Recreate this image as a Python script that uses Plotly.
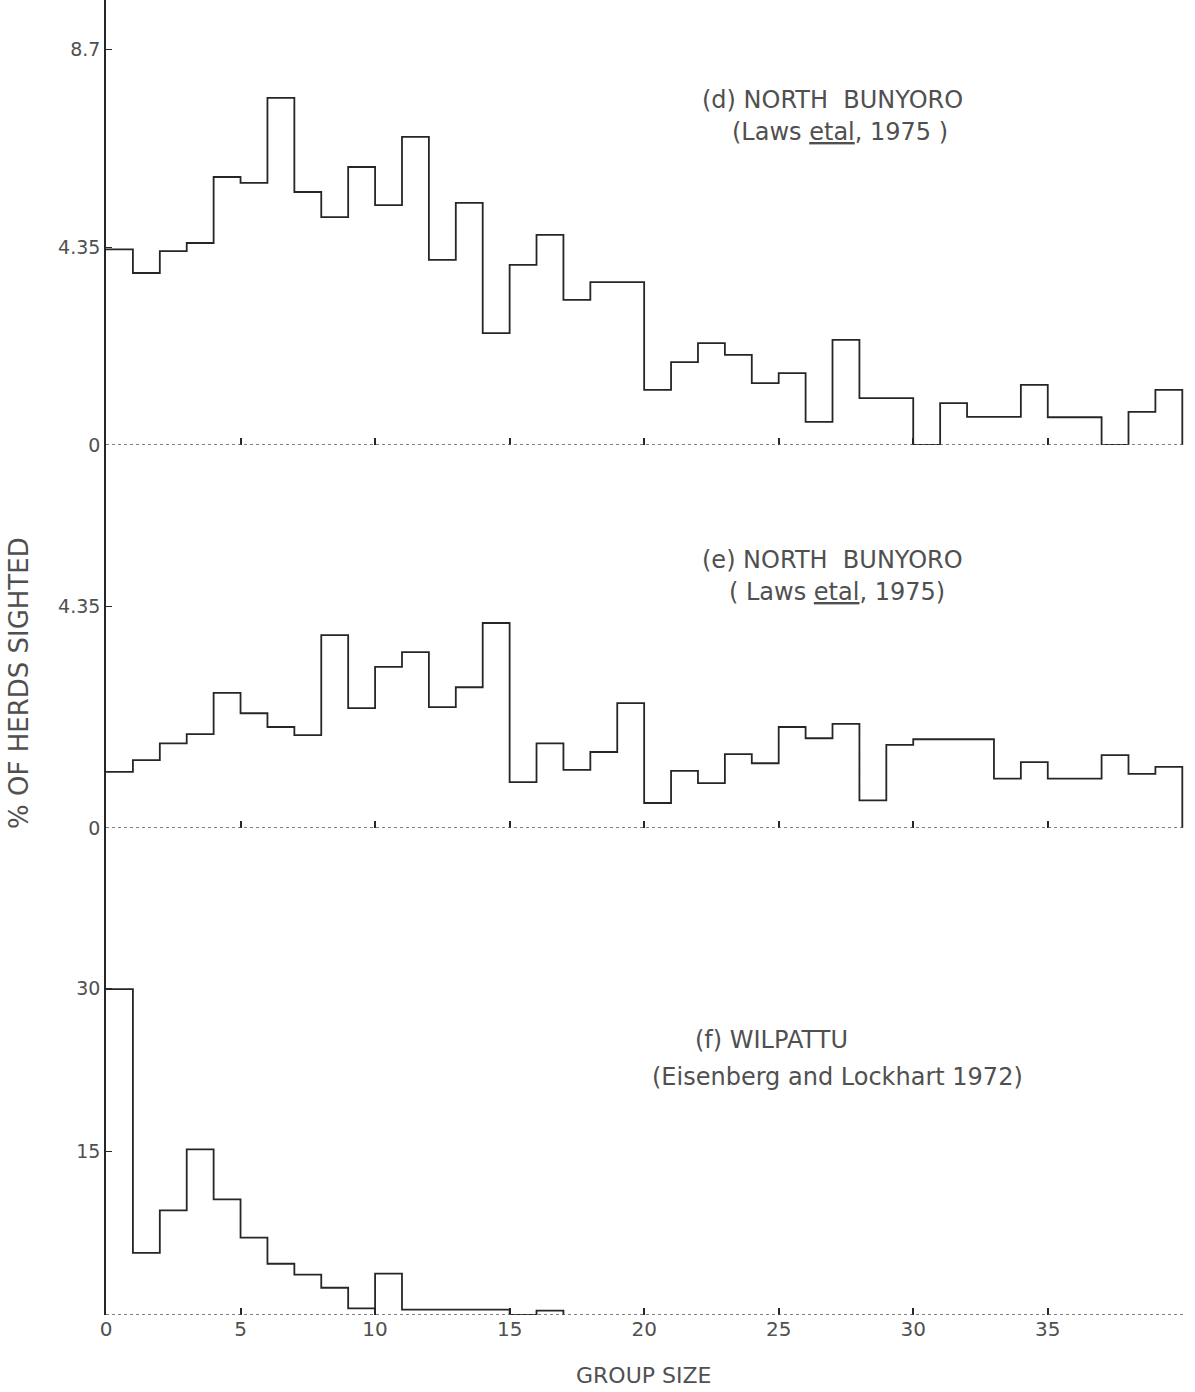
import plotly.graph_objects as go
from plotly.subplots import make_subplots

# ---- data ----
bin_edges = list(range(0, 41))  # group-size bins of width 1

north_bunyoro_d = [4.3, 3.78, 4.26, 4.44, 5.89, 5.76, 7.63, 5.56, 5.01, 6.11,
                   5.27, 6.77, 4.07, 5.32, 2.46, 3.96, 4.62, 3.19, 3.58, 3.58,
                   1.21, 1.82, 2.24, 1.98, 1.36, 1.58, 0.51, 2.31, 1.03, 1.03,
                   0.0, 0.92, 0.62, 0.62, 1.32, 0.61, 0.61, 0.0, 0.73, 1.21]

north_bunyoro_e = [1.10, 1.33, 1.66, 1.84, 2.65, 2.25, 1.98, 1.82, 3.78, 2.35,
                   3.16, 3.45, 2.37, 2.76, 4.02, 0.90, 1.66, 1.14, 1.49, 2.45,
                   0.49, 1.12, 0.88, 1.45, 1.27, 1.98, 1.76, 2.04, 0.54, 1.63,
                   1.74, 1.74, 1.74, 0.97, 1.29, 0.97, 0.97, 1.43, 1.06, 1.20]

wilpattu_f = [29.9, 5.7, 9.6, 15.2, 10.6, 7.1, 4.7, 3.7, 2.5, 0.6,
              3.8, 0.5, 0.5, 0.5, 0.5, 0.0, 0.4]

x_tick_vals = [0, 5, 10, 15, 20, 25, 30, 35]
x_tick_text = ["0", "5", "10", "15", "20", "25", "30", "35"]
d_tick_vals = [0, 4.35, 8.7]
d_tick_text = ["0", "4.35", "8.7"]
e_tick_vals = [0, 4.35]
e_tick_text = ["0", "4.35"]
f_tick_vals = [15, 30]
f_tick_text = ["15", "30"]

panel_titles = [
    ("(d) NORTH  BUNYORO", "(Laws <u>etal</u>, 1975 )"),
    ("(e) NORTH  BUNYORO", "( Laws <u>etal</u>, 1975)"),
    ("(f) WILPATTU", "(Eisenberg and Lockhart 1972)"),
]

INK = "#262626"
TXT = "#505050"
FONT = "DejaVu Sans, Verdana, sans-serif"


def step_xy(values):
    xs = bin_edges[:len(values) + 1]
    ys = list(values) + [values[-1]]
    xs = xs + [xs[-1]]
    ys = ys + [0]
    return xs, ys


fig = make_subplots(rows=3, cols=1, shared_xaxes=False, vertical_spacing=0)

for row, vals in enumerate([north_bunyoro_d, north_bunyoro_e, wilpattu_f], start=1):
    xs, ys = step_xy(vals)
    fig.add_trace(go.Scatter(x=xs, y=ys, mode="lines", line_shape="hv",
                             line=dict(color=INK, width=1.8), showlegend=False,
                             hoverinfo="skip"), row=row, col=1)

# plot area: 106 -> 1185 horizontally, 0 -> 1315 vertically
L, R, W = 106, 10, 1195
PW = W - L - R
H = 1315.0
dom_f = [0, (H - 828) / H]
dom_e = [(H - 828) / H, (H - 445) / H]
dom_d = [(H - 445) / H, 1]

fig.update_layout(
    width=1195, height=1392,
    margin=dict(l=L, r=R, t=0, b=77),
    paper_bgcolor="white", plot_bgcolor="white",
    font=dict(family=FONT, size=18, color=TXT),
    yaxis=dict(domain=dom_d, range=[0, 445 / 45.5], tickvals=d_tick_vals, ticktext=d_tick_text),
    yaxis2=dict(domain=dom_e, range=[0, 383 / 51.0], tickvals=e_tick_vals, ticktext=e_tick_text),
    yaxis3=dict(domain=dom_f, range=[0, 487 / 10.9], tickvals=f_tick_vals, ticktext=f_tick_text),
)

for ax in ["yaxis", "yaxis2", "yaxis3"]:
    fig.layout[ax].update(showline=True, linecolor=INK, linewidth=1.6, showgrid=False,
                          zeroline=False, ticks="inside", ticklen=6, tickcolor=INK,
                          tickfont=dict(size=19, color=TXT, family=FONT))

for i, ax in enumerate(["xaxis", "xaxis2", "xaxis3"]):
    fig.layout[ax].update(range=[0, 40.1], showline=False, showgrid=False, zeroline=False,
                          ticks="inside", ticklen=7, tickcolor=INK, tickwidth=1.5,
                          tickvals=x_tick_vals, ticktext=x_tick_text,
                          showticklabels=(i == 2),
                          tickfont=dict(size=20, color=TXT, family=FONT))

# dotted baselines of each panel
for yref in ["y", "y2", "y3"]:
    fig.add_shape(type="line", xref="paper", yref=yref, x0=0, x1=1, y0=0, y1=0,
                  line=dict(color="#555", width=1.3, dash="dot"))


def px_x(p):
    return (p - L) / PW


def px_y(p):
    return (H - p) / H


# panel titles
title_pos = [(832, 100, 840, 132), (832, 560, 837, 592), (771, 1040, 837, 1077)]
for (t1, t2), (x1, y1, x2, y2) in zip(panel_titles, title_pos):
    fig.add_annotation(text=t1, xref="paper", yref="paper", x=px_x(x1), y=px_y(y1),
                       xanchor="center", yanchor="middle", showarrow=False,
                       font=dict(size=24, color=TXT, family=FONT))
    fig.add_annotation(text=t2, xref="paper", yref="paper", x=px_x(x2), y=px_y(y2),
                       xanchor="center", yanchor="middle", showarrow=False,
                       font=dict(size=24, color=TXT, family=FONT))

# axis titles
fig.add_annotation(text="% OF HERDS SIGHTED", xref="paper", yref="paper",
                   x=px_x(19), y=px_y(683), xanchor="center", yanchor="middle",
                   textangle=-90, showarrow=False,
                   font=dict(size=26, color=TXT, family=FONT))
fig.add_annotation(text="GROUP SIZE", xref="paper", yref="paper",
                   x=px_x(643), y=px_y(1376), xanchor="center", yanchor="middle",
                   showarrow=False, font=dict(size=22, color=TXT, family=FONT))

fig.write_html("out.html")
